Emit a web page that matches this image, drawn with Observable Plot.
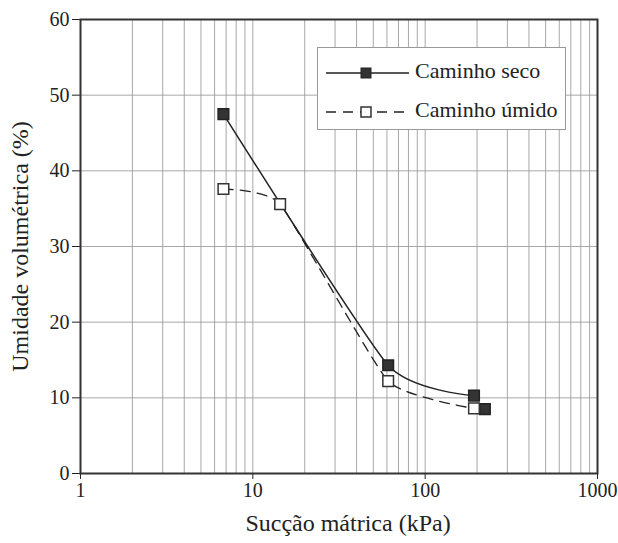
<!DOCTYPE html>
<html>
<head>
<meta charset="utf-8">
<script src="https://cdn.jsdelivr.net/npm/d3@7"></script>
<script src="https://cdn.jsdelivr.net/npm/@observablehq/plot@0.6"></script>
<style>
  body { margin: 0; background: #fff; }
  #wrap { position: relative; width: 618px; height: 543px; }
  #wrap svg text { font-size: 20px !important; font-family: "Liberation Serif", "DejaVu Serif", serif !important; }
  #wrap svg text.axlabel { font-size: 24px !important; }
  #legend { position: absolute; left: 317px; top: 47px; width: 247px; height: 81px;
    border: 1px solid #999; background: #fff; font-family: "Liberation Serif", "DejaVu Serif", serif; font-size: 22px; color: #222; }
  #legend svg { position: absolute; left: 0; top: 0; }
  #legend span { position: absolute; left: 97px; line-height: 22px; white-space: nowrap; }
</style>
</head>
<body>
<div id="wrap"></div>
<script>
const secoSuccao = [6.75, 61, 192];
const secoUmidade = [47.5, 14.3, 10.3];
const extraSuccao = [222];
const extraUmidade = [8.5];
const umidoSuccao = [6.75, 14.4, 61, 192];
const umidoUmidade = [37.6, 35.6, 12.2, 8.6];
const xTicks = [1, 10, 100, 1000];
const yTicks = [0, 10, 20, 30, 40, 50, 60];
const xGridMult = [1, 2, 3, 4, 5, 6, 7, 8, 9];
const decades = [1, 10, 100];

const seco = secoSuccao.map((x, i) => ({x, y: secoUmidade[i]}));
const extra = extraSuccao.map((x, i) => ({x, y: extraUmidade[i]}));
const umido = umidoSuccao.map((x, i) => ({x, y: umidoUmidade[i]}));
const xGrid = decades.flatMap(d => xGridMult.map(m => d * m)).concat([1000]);

const chart = Plot.plot({
  width: 618, height: 543,
  marginLeft: 80, marginRight: 21, marginTop: 19, marginBottom: 70,
  style: {fontFamily: "Liberation Serif, serif", fontSize: "20px", color: "#222", background: "#fff"},
  x: {type: "log", domain: [1, 1000]},
  y: {domain: [0, 60]},
  marks: [
    Plot.gridX(xGrid, {stroke: "#999", strokeOpacity: 0.85, strokeWidth: 1}),
    Plot.gridY(yTicks, {stroke: "#999", strokeOpacity: 0.85, strokeWidth: 1}),
    Plot.axisX(xTicks, {tickFormat: d => String(d), tickSize: 6, tickPadding: 3,
      label: "Sucção mátrica (kPa)", labelAnchor: "center", labelArrow: "none", labelOffset: 57}),
    Plot.axisY(yTicks, {tickSize: 8, tickPadding: 3,
      label: "Umidade volumétrica (%)", labelAnchor: "center", labelArrow: "none", labelOffset: 70}),
    Plot.frame({stroke: "#333", strokeWidth: 2}),
    Plot.line(umido, {x: "x", y: "y", curve: "cardinal", tension: 0.55, stroke: "#222", strokeWidth: 1.3, strokeDasharray: "10,7"}),
    Plot.line(seco, {x: "x", y: "y", curve: "cardinal", tension: 0.45, stroke: "#222", strokeWidth: 1.5}),
    Plot.dot(seco, {x: "x", y: "y", symbol: "square", r: 6, fill: "#333", stroke: "#222"}),
    Plot.dot(extra, {x: "x", y: "y", symbol: "square", r: 6, fill: "#333", stroke: "#222"}),
    Plot.dot(umido, {x: "x", y: "y", symbol: "square", r: 6, fill: "#fff", stroke: "#333", strokeWidth: 1.5})
  ]
});
const wrap = document.getElementById("wrap");
wrap.appendChild(chart);
chart.querySelectorAll("text").forEach(t => {
  const s = t.textContent;
  if (s.includes("Sucção")) { t.classList.add("axlabel"); t.setAttribute("dx", "9"); }
  if (s.includes("Umidade")) { t.classList.add("axlabel"); }
});
const legend = document.createElement("div");
legend.id = "legend";
legend.innerHTML = `
<svg width="247" height="81">
  <line x1="8" y1="25" x2="91" y2="25" stroke="#222" stroke-width="1.5"/>
  <rect x="43" y="20" width="10" height="10" fill="#333" stroke="#222"/>
  <line x1="8" y1="64" x2="91" y2="64" stroke="#222" stroke-width="1.3" stroke-dasharray="10,7"/>
  <rect x="43" y="59" width="10" height="10" fill="#fff" stroke="#333" stroke-width="1.5"/>
</svg>
<span style="top:12px">Caminho seco</span>
<span style="top:51px">Caminho úmido</span>`;
wrap.appendChild(legend);
</script>
</body>
</html>
